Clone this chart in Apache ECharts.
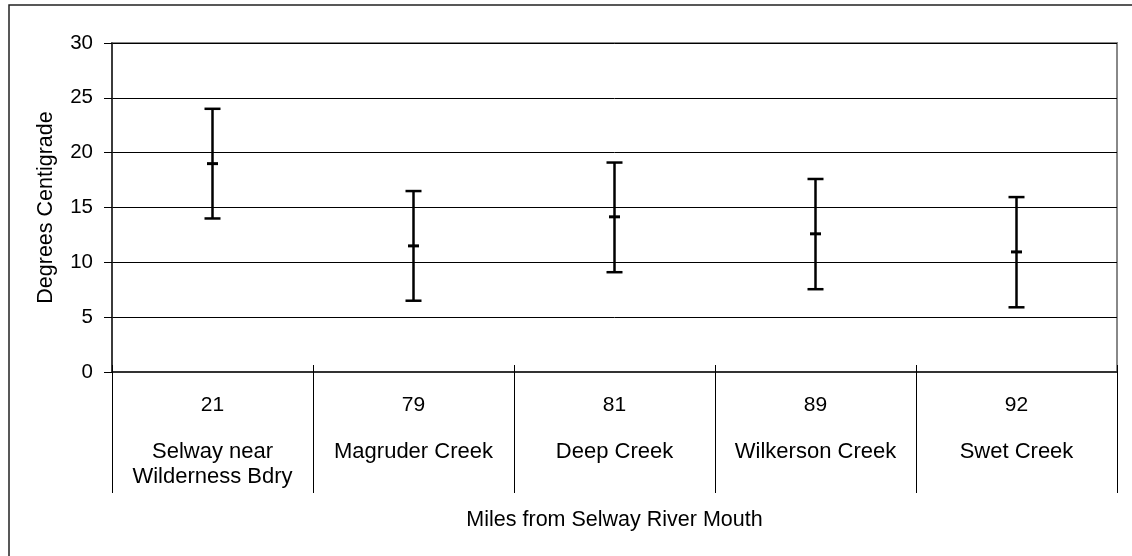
<!DOCTYPE html>
<html>
<head>
<meta charset="utf-8">
<script src="https://cdn.jsdelivr.net/npm/echarts@6/dist/echarts.min.js"></script>
<style>
html,body{margin:0;padding:0;background:#fff;}
#chart{width:1132px;height:556px;}
</style>
</head>
<body>
<div id="chart"></div>
<script>
// Data
var miles = ['21', '79', '81', '89', '92'];
var sites = ['Selway near\nWilderness Bdry', 'Magruder Creek', 'Deep Creek', 'Wilkerson Creek', 'Swet Creek'];
var lows  = [14.0, 6.5, 9.1, 7.55, 5.9];
var mids  = [19.0, 11.5, 14.15, 12.6, 10.95];
var highs = [24.0, 16.5, 19.1, 17.6, 15.95];
var yTicks = [0, 5, 10, 15, 20, 25, 30];

var FONT = '"Liberation Sans", Arial, sans-serif';
var categories = miles.map(function (m, i) { return m + '|' + sites[i]; });
var seriesData = miles.map(function (m, i) { return [i, lows[i], mids[i], highs[i]]; });

var chart = echarts.init(document.getElementById('chart'), null, {renderer: 'canvas'});
chart.setOption({
  backgroundColor: '#fff',
  animation: false,
  textStyle: {fontFamily: FONT, color: '#000'},
  graphic: [{
    type: 'rect', left: 6.5, top: 2.5,
    shape: {width: 1200, height: 700},
    style: {fill: 'none', stroke: '#222', lineWidth: 1.5},
    silent: true, z: 0
  }],
  grid: {
    left: 112, right: 15, top: 43, bottom: 184,
    show: true, borderColor: '#888', borderWidth: 2, backgroundColor: 'transparent'
  },
  xAxis: [{
    type: 'category',
    data: categories,
    boundaryGap: true,
    position: 'bottom',
    name: 'Miles from Selway River Mouth',
    nameLocation: 'middle',
    nameGap: 137,
    nameTextStyle: {fontSize: 21.5, color: '#000', fontFamily: FONT},
    axisLine: {show: true, lineStyle: {color: '#333', width: 2}},
    axisTick: {show: true, length: 121, alignWithLabel: false, lineStyle: {color: '#000', width: 1}},
    axisLabel: {
      interval: 0, margin: 0, color: '#000',
      formatter: function (v) {
        var p = v.split('|');
        return '{n|' + p[0] + '}\n{s|' + p[1] + '}';
      },
      rich: {
        n: {fontSize: 21, lineHeight: 67, fontFamily: FONT, color: '#000'},
        s: {fontSize: 22, lineHeight: 25.5, fontFamily: FONT, color: '#000'}
      }
    },
    splitLine: {show: false}
  }, {
    type: 'category',
    data: categories,
    boundaryGap: true,
    position: 'bottom',
    axisLine: {show: false},
    axisTick: {show: true, inside: true, length: 7, lineStyle: {color: '#000', width: 1}},
    axisLabel: {show: false},
    splitLine: {show: false}
  }],
  yAxis: {
    type: 'value',
    min: yTicks[0], max: yTicks[yTicks.length - 1], interval: 5,
    name: 'Degrees Centigrade',
    nameLocation: 'middle',
    nameGap: 55,
    nameTextStyle: {fontSize: 21.5, color: '#000', fontFamily: FONT},
    axisLine: {show: true, lineStyle: {color: '#222', width: 1.5}},
    axisTick: {show: true, length: 8, lineStyle: {color: '#000', width: 1}},
    axisLabel: {margin: 19, fontSize: 20.5, color: '#000', fontFamily: FONT},
    splitLine: {show: true, lineStyle: {color: '#000', width: 1}}
  },
  series: [{
    type: 'custom',
    xAxisIndex: 0,
    data: seriesData,
    encode: {x: 0, y: [1, 2, 3]},
    renderItem: function (params, api) {
      var idx = api.value(0);
      var lo = api.coord([idx, api.value(1)]);
      var md = api.coord([idx, api.value(2)]);
      var hi = api.coord([idx, api.value(3)]);
      var st = {stroke: '#000', lineWidth: 2.5};
      return {
        type: 'group',
        children: [
          {type: 'line', shape: {x1: lo[0], y1: lo[1], x2: hi[0], y2: hi[1]}, style: st},
          {type: 'line', shape: {x1: lo[0] - 8, y1: lo[1], x2: lo[0] + 8, y2: lo[1]}, style: st},
          {type: 'line', shape: {x1: hi[0] - 8, y1: hi[1], x2: hi[0] + 8, y2: hi[1]}, style: st},
          {type: 'line', shape: {x1: md[0] - 5.5, y1: md[1], x2: md[0] + 5.5, y2: md[1]}, style: {stroke: '#000', lineWidth: 3}}
        ]
      };
    },
    z: 5
  }]
});
</script>
</body>
</html>
